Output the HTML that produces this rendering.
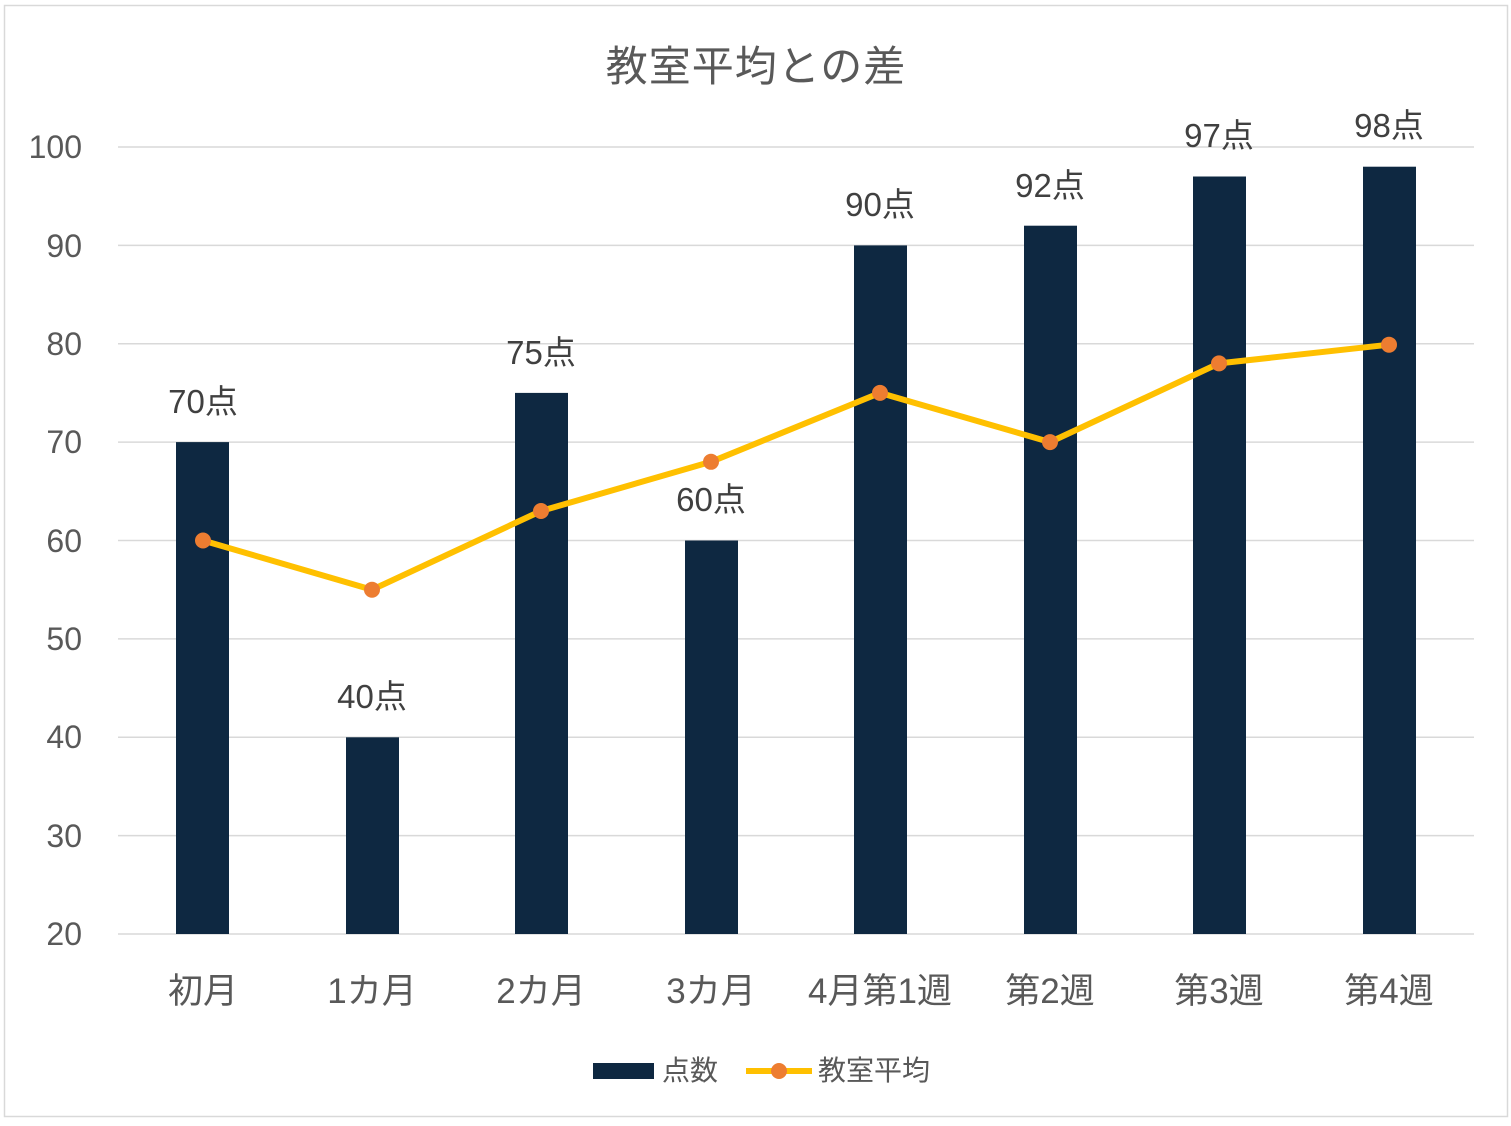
<!DOCTYPE html>
<html><head><meta charset="utf-8"><style>body{margin:0;background:#fff}svg text{font-family:"Liberation Sans","Noto Sans CJK JP",sans-serif}</style></head>
<body>
<svg width="1511" height="1121" xmlns="http://www.w3.org/2000/svg">
<rect x="4.5" y="5.5" width="1503" height="1111" fill="#fff" stroke="#d9d9d9" stroke-width="1.5"/>
<text x="756" y="81" font-size="42" letter-spacing="1" fill="#595959" text-anchor="middle">教室平均との差</text>
<g stroke="#d9d9d9" stroke-width="1.5">
<line x1="118" x2="1474" y1="147" y2="147"/><line x1="118" x2="1474" y1="245.4" y2="245.4"/><line x1="118" x2="1474" y1="343.7" y2="343.7"/><line x1="118" x2="1474" y1="442.1" y2="442.1"/><line x1="118" x2="1474" y1="540.5" y2="540.5"/><line x1="118" x2="1474" y1="638.9" y2="638.9"/><line x1="118" x2="1474" y1="737.3" y2="737.3"/><line x1="118" x2="1474" y1="835.6" y2="835.6"/><line x1="118" x2="1474" y1="934" y2="934"/>
</g>
<g font-size="32" fill="#595959" text-anchor="end">
<text x="82" y="158">100</text><text x="82" y="257">90</text><text x="82" y="355">80</text><text x="82" y="453">70</text><text x="82" y="552">60</text><text x="82" y="650">50</text><text x="82" y="748">40</text><text x="82" y="847">30</text><text x="82" y="945">20</text>
</g>
<g fill="#0e2841">
<rect x="176" y="442.1" width="53" height="491.9"/><rect x="346" y="737.3" width="53" height="196.7"/><rect x="515" y="392.9" width="53" height="541.1"/><rect x="685" y="540.5" width="53" height="393.5"/><rect x="854" y="245.4" width="53" height="688.6"/><rect x="1024" y="225.7" width="53" height="708.3"/><rect x="1193" y="176.5" width="53" height="757.5"/><rect x="1363" y="166.7" width="53" height="767.3"/>
</g>
<g font-size="33" fill="#404040" text-anchor="middle">
<text x="203" y="413">70点</text><text x="372" y="708">40点</text><text x="541" y="364">75点</text><text x="711" y="511">60点</text><text x="880" y="216">90点</text><text x="1050" y="197">92点</text><text x="1219" y="147">97点</text><text x="1389" y="137">98点</text>
</g>
<polyline fill="none" stroke="#ffc000" stroke-width="6" stroke-linejoin="round" points="203,540.5 372,589.7 541,511 711,461.8 880,392.9 1050,442.1 1219,363.4 1389,344.7"/>
<g fill="#ed7d31">
<circle cx="203" cy="540.5" r="8"/><circle cx="372" cy="589.7" r="8"/><circle cx="541" cy="511" r="8"/><circle cx="711" cy="461.8" r="8"/><circle cx="880" cy="392.9" r="8"/><circle cx="1050" cy="442.1" r="8"/><circle cx="1219" cy="363.4" r="8"/><circle cx="1389" cy="344.7" r="8"/>
</g>
<g font-size="35" fill="#595959" text-anchor="middle">
<text x="203" y="1003">初月</text><text x="372" y="1003">1カ月</text><text x="541" y="1003">2カ月</text><text x="711" y="1003">3カ月</text><text x="880" y="1003">4月第1週</text><text x="1050" y="1003">第2週</text><text x="1219" y="1003">第3週</text><text x="1389" y="1003">第4週</text>
</g>
<rect x="593" y="1063" width="61" height="16" fill="#0e2841"/>
<text x="662" y="1080" font-size="28" fill="#595959">点数</text>
<line x1="746" x2="812" y1="1071" y2="1071" stroke="#ffc000" stroke-width="6"/>
<circle cx="779" cy="1071" r="8" fill="#ed7d31"/>
<text x="818" y="1080" font-size="28" fill="#595959">教室平均</text>
</svg>
</body></html>
